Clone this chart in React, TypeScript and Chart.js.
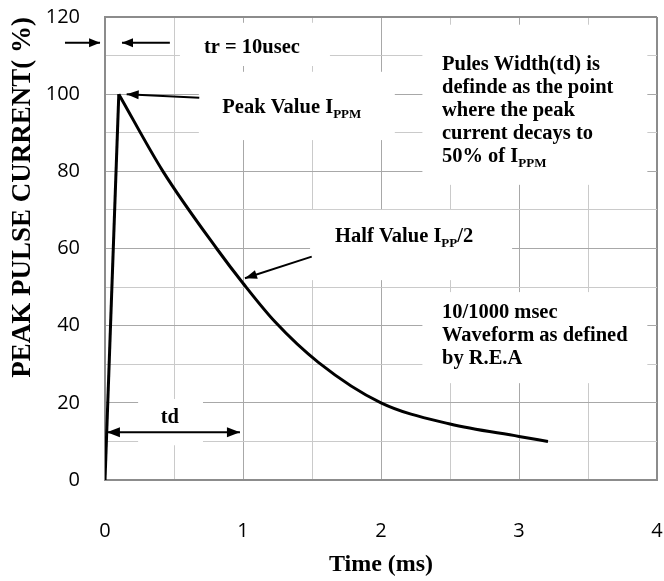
import React, { useEffect, useRef } from 'react';
import { Chart, registerables } from 'chart.js';

Chart.register(...registerables);

// ---- data ----
const riseTime = [0, 0.1];
const riseValue = [0, 100];
const decayTime = [0.1, 0.42, 0.809, 1.0, 1.232, 1.546, 2.0, 2.5, 3.0, 3.21];
const decayValue = [100, 80, 60, 51, 41, 30.5, 20, 14.5, 11.3, 10];
const xTickLabels = ['0', '1', '2', '3', '4'];
const yTickLabels = ['0', '20', '40', '60', '80', '100', '120'];

const xTitle = 'Time (ms)';
const yTitle = 'PEAK PULSE CURRENT( %)';

// annotation white boxes in data units: [t0, t1, vTop, vBottom]
const textBoxes: number[][] = [
  [0.543, 1.63, 118.5, 107.3],
  [0.68, 2.1, 105.8, 88.1],
  [2.3, 3.93, 118, 76.5],
  [1.486, 2.95, 70, 51.8],
  [2.3, 3.93, 48.7, 25.1],
  [0.24, 0.71, 21, 9],
];

type Part = { s: string; sub?: boolean };
type Label = { t: number; v: number; parts: Part[]; align?: 'left' | 'center' };

const labels: Label[] = [
  { t: 0.717, v: 110.6, parts: [{ s: 'tr = 10usec' }] },
  { t: 0.85, v: 95.1, parts: [{ s: 'Peak Value I' }, { s: 'PPM', sub: true }] },
  { t: 2.442, v: 106.3, parts: [{ s: 'Pules Width(td) is' }] },
  { t: 2.442, v: 100.3, parts: [{ s: 'definde as the point' }] },
  { t: 2.442, v: 94.3, parts: [{ s: 'where the peak' }] },
  { t: 2.442, v: 88.4, parts: [{ s: 'current decays to' }] },
  { t: 2.442, v: 82.4, parts: [{ s: '50% of I' }, { s: 'PPM', sub: true }] },
  { t: 1.667, v: 61.7, parts: [{ s: 'Half Value I' }, { s: 'PP', sub: true }, { s: '/2' }] },
  { t: 2.442, v: 42.0, parts: [{ s: '10/1000 msec' }] },
  { t: 2.442, v: 36.0, parts: [{ s: 'Waveform as defined' }] },
  { t: 2.442, v: 30.1, parts: [{ s: 'by R.E.A' }] },
  { t: 0.47, v: 14.8, parts: [{ s: 'td' }], align: 'center' },
];

type Arrow = { from: number[]; to: number[]; both?: boolean; head: number; half: number };
const arrows: Arrow[] = [
  { from: [-0.29, 113.3], to: [-0.036, 113.3], head: 11, half: 4.5 },
  { from: [0.47, 113.3], to: [0.123, 113.3], head: 11, half: 4.5 },
  { from: [0.683, 99.1], to: [0.157, 100], head: 12, half: 4.5 },
  { from: [1.498, 57.9], to: [1.014, 52.3], head: 12, half: 4.5 },
  { from: [0.014, 12.4], to: [0.978, 12.4], both: true, head: 13, half: 5 },
];

const SERIF = '"Liberation Serif", "Times New Roman", serif';
const SANS = '"Open Sans", "Noto Sans", sans-serif';

function head(ctx: CanvasRenderingContext2D, x0: number, y0: number, x1: number, y1: number, len: number, half: number) {
  const a = Math.atan2(y1 - y0, x1 - x0);
  const bx = x1 - len * Math.cos(a);
  const by = y1 - len * Math.sin(a);
  ctx.beginPath();
  ctx.moveTo(x1, y1);
  ctx.lineTo(bx + half * Math.sin(a), by - half * Math.cos(a));
  ctx.lineTo(bx - half * Math.sin(a), by + half * Math.cos(a));
  ctx.closePath();
  ctx.fill();
}

const annotationPlugin = {
  id: 'annotations',
  beforeDatasetsDraw(chart: any) {
    const { ctx, scales } = chart;
    const xs = scales.x, ys = scales.y;
    ctx.save();
    ctx.fillStyle = '#ffffff';
    textBoxes.forEach(([t0, t1, v0, v1]) => {
      const x0 = xs.getPixelForValue(t0), x1 = xs.getPixelForValue(t1);
      const y0 = ys.getPixelForValue(v0), y1 = ys.getPixelForValue(v1);
      ctx.fillRect(x0, y0, x1 - x0, y1 - y0);
    });
    ctx.restore();
  },
  afterDatasetsDraw(chart: any) {
    const { ctx, scales } = chart;
    const xs = scales.x, ys = scales.y;
    ctx.save();
    ctx.strokeStyle = '#000';
    ctx.fillStyle = '#000';
    ctx.lineWidth = 2;
    arrows.forEach((ar) => {
      const x0 = xs.getPixelForValue(ar.from[0]), y0 = ys.getPixelForValue(ar.from[1]);
      const x1 = xs.getPixelForValue(ar.to[0]), y1 = ys.getPixelForValue(ar.to[1]);
      ctx.beginPath();
      ctx.moveTo(x0, y0);
      ctx.lineTo(x1, y1);
      ctx.stroke();
      head(ctx, x0, y0, x1, y1, ar.head, ar.half);
      if (ar.both) head(ctx, x1, y1, x0, y0, ar.head, ar.half);
    });
    ctx.textBaseline = 'alphabetic';
    ctx.textAlign = 'left';
    const mainFont = 'bold 20.5px ' + SERIF;
    const subFont = 'bold 13px ' + SERIF;
    labels.forEach((lb) => {
      let total = 0;
      lb.parts.forEach((p) => {
        ctx.font = p.sub ? subFont : mainFont;
        total += ctx.measureText(p.s).width;
      });
      let x = xs.getPixelForValue(lb.t);
      if (lb.align === 'center') x -= total / 2;
      const y = ys.getPixelForValue(lb.v);
      lb.parts.forEach((p) => {
        ctx.font = p.sub ? subFont : mainFont;
        ctx.fillText(p.s, x, p.sub ? y + 5 : y);
        x += ctx.measureText(p.s).width;
      });
    });
    ctx.restore();
  },
};

const MAJOR = '#a8a8a8';
const MINOR = '#cacaca';
const EDGE = '#8c8c8c';

export default function App() {
  const ref = useRef<HTMLCanvasElement | null>(null);

  useEffect(() => {
    document.body.style.margin = '0';
    if (!ref.current) return;
    const chart = new Chart(ref.current, {
      type: 'line',
      data: {
        datasets: [
          {
            data: riseTime.map((t, i) => ({ x: t, y: riseValue[i] })),
            borderColor: '#000',
            borderWidth: 3,
            pointRadius: 0,
            tension: 0,
          },
          {
            data: decayTime.map((t, i) => ({ x: t, y: decayValue[i] })),
            borderColor: '#000',
            borderWidth: 3,
            pointRadius: 0,
            cubicInterpolationMode: 'monotone',
          },
        ],
      },
      options: {
        animation: false,
        responsive: true,
        maintainAspectRatio: false,
        layout: { padding: { top: 17, right: 7, left: 0, bottom: 0 } },
        plugins: { legend: { display: false }, tooltip: { enabled: false } },
        scales: {
          x: {
            type: 'linear',
            min: 0,
            max: 4,
            afterFit: (s: any) => {
              s.height = 101;
              s.paddingLeft = 0;
              s.paddingRight = 0;
            },
            ticks: {
              stepSize: 0.5,
              padding: 39,
              color: '#000',
              font: { family: SANS, size: 20 },
              maxRotation: 0,
              callback: (v: any) => (xTickLabels.includes(String(v)) ? String(v) : ''),
            },
            grid: {
              drawTicks: false,
              color: (c: any) => (c.tick.value === 4 ? EDGE : c.tick.value % 1 === 0 ? MAJOR : MINOR),
              lineWidth: (c: any) => (c.tick.value === 4 ? 2 : 1),
            },
            border: { color: EDGE, width: 2 },
            title: {
              display: true,
              text: xTitle,
              color: '#000',
              font: { family: SERIF, size: 24, weight: 'bold' },
              padding: { top: 0, bottom: 1.6 },
            },
          },
          y: {
            type: 'linear',
            min: 0,
            max: 120,
            afterFit: (s: any) => {
              s.width = 105;
              s.paddingTop = 0;
              s.paddingBottom = 0;
            },
            ticks: {
              stepSize: 10,
              padding: 25,
              color: '#000',
              font: { family: SANS, size: 20 },
              callback: (v: any) => (yTickLabels.includes(String(v)) ? String(v) : ''),
            },
            grid: {
              drawTicks: false,
              color: (c: any) => (c.tick.value === 120 ? EDGE : c.tick.value % 20 === 0 ? MAJOR : MINOR),
              lineWidth: (c: any) => (c.tick.value === 120 ? 2 : 1),
            },
            border: { color: EDGE, width: 2 },
            title: {
              display: true,
              text: yTitle,
              align: 'end',
              color: '#000',
              font: { family: SERIF, size: 27, weight: 'bold' },
              padding: { top: 6.8, bottom: 0 },
            },
          },
        },
      },
      plugins: [annotationPlugin],
    } as any);
    return () => chart.destroy();
  }, []);

  return (
    <div style={{ position: 'relative', width: 664, height: 581 }}>
      <canvas ref={ref} />
    </div>
  );
}
